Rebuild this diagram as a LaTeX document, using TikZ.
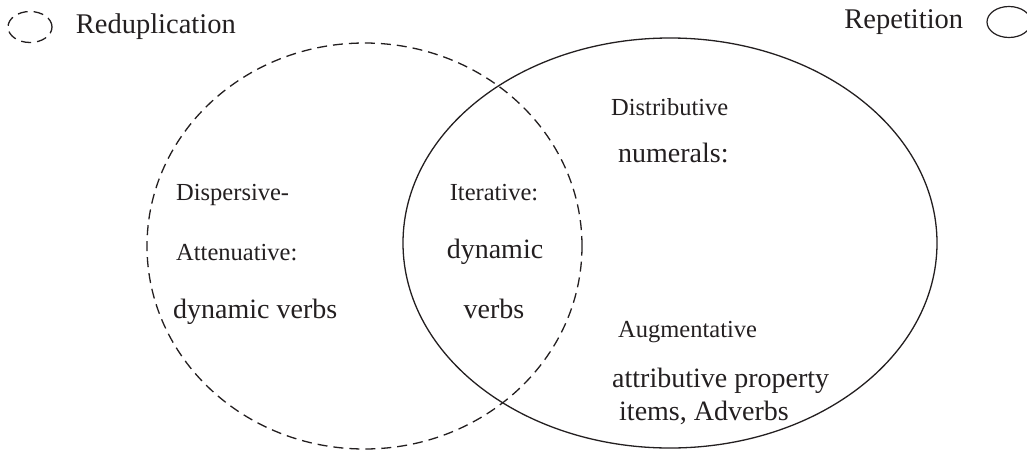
\documentclass[tikz,border=0pt]{standalone}
\usepackage{fontspec}
\setmainfont{Liberation Serif}
\usetikzlibrary{positioning,shapes.geometric}
\definecolor{ink}{HTML}{231F20}

\begin{document}
\begin{tikzpicture}[
  x=1pt, y=-1pt,
  node distance=23pt,
  repset/.style={draw=ink, line width=1.3pt},
  reduset/.style={repset, dash pattern=on 10pt off 6pt},
  keyshape/.style={ellipse, draw=ink, line width=1.2pt, minimum width=44pt, minimum height=31pt, inner sep=0pt},
  keytext/.style={font=\fontsize{28.5}{33}\selectfont, text=ink, inner sep=0pt},
  smalltext/.style={font=\fontsize{24.5}{28}\selectfont, text=ink, inner sep=0pt, anchor=base west},
  bigtext/.style={font=\fontsize{28}{32}\selectfont, text=ink, inner sep=0pt, anchor=base west}
]
\useasboundingbox (0,0) rectangle (1027,450);

% Legend
\node[keyshape, reduset] (redukey) at (30,27) {};
\node[keytext, right=of redukey] (redulabel) {Reduplication};
\node[keyshape] (repkey) at (1009,22) {};
\node[keytext, left=of repkey] (replabel) {Repetition};

% The two sets
\draw[reduset] (364.5,246) ellipse [x radius=217.5pt, y radius=203pt];
\draw[repset] (670,243) ellipse [x radius=267pt, y radius=205pt];

% Reduplication only
\node[smalltext] (disp) at (176,200) {Dispersive-};
\node[smalltext] (atten) at (176,260) {Attenuative:};
\node[bigtext] (dynverbs) at (173,318) {dynamic verbs};

% Overlap
\node[smalltext, anchor=base] (iter) at (494,200) {Iterative:};
\node[bigtext, anchor=base] (iterdyn) at (495,258) {dynamic};
\node[bigtext, anchor=base] (iterverbs) at (494,318) {verbs};

% Repetition only
\node[smalltext] (distr) at (611,115) {Distributive};
\node[bigtext] (numer) at (618,162) {numerals:};
\node[smalltext] (augm) at (618,337) {Augmentative};
\node[bigtext] (attr) at (612,387) {attributive property};
\node[bigtext] (items) at (619,420) {items, Adverbs};

\end{tikzpicture}
\end{document}
